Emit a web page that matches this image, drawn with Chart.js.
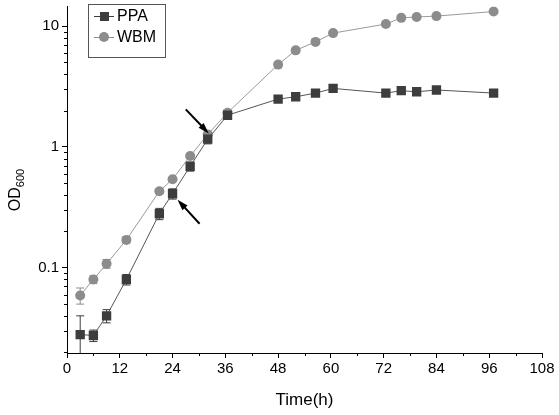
<!DOCTYPE html>
<html>
<head>
<meta charset="utf-8">
<script src="https://cdn.jsdelivr.net/npm/chart.js@4.4.1/dist/chart.umd.min.js"></script>
<style>
  html, body { margin: 0; padding: 0; background: #fff; }
  #wrap { width: 559px; height: 415px; }
</style>
</head>
<body>
<div id="wrap"><canvas id="growthChart" width="559" height="415"></canvas></div>
<script>
// sampling times (h)
const times = [3, 6, 9, 13.5, 21, 24, 28, 32, 36.5, 48, 52, 56.5, 60.5, 72.5, 76, 79.5, 84, 97];
// OD600 readings
const ppaValues = [0.028, 0.0275, 0.040, 0.080, 0.28, 0.41, 0.69, 1.16, 1.83, 2.49, 2.60, 2.79, 3.05, 2.79, 2.92, 2.86, 2.96, 2.79];
const ppaErrors = [0.012, 0.003, 0.005, 0.008, 0.03, 0.04, 0.06, 0.10, 0.08, 0.06, 0.05, 0.05, 0.06, 0.05, 0.05, 0.05, 0.05, 0.05];
const wbmValues = [0.059, 0.080, 0.108, 0.17, 0.43, 0.54, 0.84, 1.27, 1.92, 4.8, 6.3, 7.4, 8.75, 10.4, 11.7, 11.9, 12.1, 13.2];
const wbmErrors = [0.009, 0.006, 0.009, 0.01, 0.02, 0.02, 0.04, 0.05, 0.08, 0.1, 0.1, 0.1, 0.2, 0.2, 0.2, 0.2, 0.2, 0.2];

const xTicks = [0, 12, 24, 36, 48, 60, 72, 84, 96, 108];
const yTicks = [0.1, 1, 10];
const seriesNames = ['PPA', 'WBM'];

const ppaColor = '#3d3d3d';
const wbmColor = '#8c8c8c';
const axisFont = { family: 'Liberation Sans, Arial, sans-serif', size: 15 };

const ctx = document.getElementById('growthChart').getContext('2d');

function toPoints(vals) {
    return vals.map((v, i) => ({ x: times[i], y: v }));
}

// error bars under the markers
const errorBars = {
    id: 'errorBars',
    beforeDatasetsDraw(chart) {
        const c = chart.ctx;
        const xs = chart.scales.x, ys = chart.scales.y;
        const area = chart.chartArea;
        const sets = [[ppaValues, ppaErrors, ppaColor], [wbmValues, wbmErrors, wbmColor]];
        c.save();
        c.beginPath();
        c.rect(area.left, area.top, area.right - area.left, area.bottom - area.top);
        c.clip();
        sets.forEach(([vals, errs, col]) => {
            c.strokeStyle = col;
            c.lineWidth = 1;
            vals.forEach((v, i) => {
                const px = xs.getPixelForValue(times[i]);
                const hi = ys.getPixelForValue(v + errs[i]);
                const lo = ys.getPixelForValue(Math.max(v - errs[i], 0.001));
                c.beginPath();
                c.moveTo(px, hi); c.lineTo(px, lo);
                c.moveTo(px - 4, hi); c.lineTo(px + 4, hi);
                c.moveTo(px - 4, lo); c.lineTo(px + 4, lo);
                c.stroke();
            });
        });
        c.restore();
    }
};

function drawArrow(c, x1, y1, x2, y2) {
    const ang = Math.atan2(y2 - y1, x2 - x1);
    c.beginPath();
    c.moveTo(x1, y1);
    c.lineTo(x2 - 6 * Math.cos(ang), y2 - 6 * Math.sin(ang));
    c.lineWidth = 2;
    c.stroke();
    c.beginPath();
    c.moveTo(x2, y2);
    c.lineTo(x2 - 11 * Math.cos(ang) + 3.5 * Math.sin(ang), y2 - 11 * Math.sin(ang) - 3.5 * Math.cos(ang));
    c.lineTo(x2 - 11 * Math.cos(ang) - 3.5 * Math.sin(ang), y2 - 11 * Math.sin(ang) + 3.5 * Math.cos(ang));
    c.closePath();
    c.fill();
}

// minor ticks, arrows, legend box, y title with subscript
const extras = {
    id: 'extras',
    afterDraw(chart) {
        const c = chart.ctx;
        const xs = chart.scales.x, ys = chart.scales.y;
        const area = chart.chartArea;
        c.save();
        c.strokeStyle = '#000';
        c.lineWidth = 1;
        // minor y ticks
        [0.01, 0.1, 1, 10].forEach(dec => {
            for (let k = 2; k <= 9; k++) {
                const v = dec * k;
                if (v < ys.min || v > ys.max) continue;
                const py = Math.round(ys.getPixelForValue(v)) + 0.5;
                c.beginPath();
                c.moveTo(area.left - 3, py); c.lineTo(area.left, py);
                c.stroke();
            }
        });
        // minor x ticks
        for (let t = 6; t < 108; t += 12) {
            const px = Math.round(xs.getPixelForValue(t)) + 0.5;
            c.beginPath();
            c.moveTo(px, area.bottom); c.lineTo(px, area.bottom + 3);
            c.stroke();
        }
        // arrows near the 24 h and 32 h samples
        c.strokeStyle = '#000';
        c.fillStyle = '#000';
        const a1x = xs.getPixelForValue(times[7]), a1y = ys.getPixelForValue(wbmValues[7]);
        drawArrow(c, a1x - 22, a1y - 25, a1x + 1, a1y - 1);
        const a2x = xs.getPixelForValue(times[5]), a2y = ys.getPixelForValue(ppaValues[5]);
        drawArrow(c, a2x + 27, a2y + 30, a2x + 5, a2y + 6);

        // legend
        c.strokeStyle = '#555';
        c.lineWidth = 1;
        c.strokeRect(88.5, 4.5, 77, 53);
        const items = [[seriesNames[0], ppaColor, 'rect', 16], [seriesNames[1], wbmColor, 'circle', 37]];
        c.font = '16px Liberation Sans, Arial, sans-serif';
        c.textBaseline = 'middle';
        items.forEach(([name, col, shape, yy]) => {
            c.strokeStyle = col;
            c.beginPath();
            c.moveTo(94, yy + 0.5); c.lineTo(114, yy + 0.5);
            c.stroke();
            c.fillStyle = col;
            if (shape === 'rect') c.fillRect(100, yy - 4, 9, 9);
            else { c.beginPath(); c.arc(104, yy, 5, 0, Math.PI * 2); c.fill(); }
            c.fillStyle = '#000';
            c.fillText(name, 117, yy + 1);
        });

        // y title OD600
        c.translate(14, 190);
        c.rotate(-Math.PI / 2);
        c.fillStyle = '#000';
        c.textBaseline = 'alphabetic';
        c.font = '16px Liberation Sans, Arial, sans-serif';
        const w1 = c.measureText('OD').width;
        c.font = '11px Liberation Sans, Arial, sans-serif';
        const w2 = c.measureText('600').width;
        const x0 = -(w1 + w2) / 2;
        c.font = '16px Liberation Sans, Arial, sans-serif';
        c.fillText('OD', x0, 6);
        c.font = '11px Liberation Sans, Arial, sans-serif';
        c.fillText('600', x0 + w1, 10);
        c.restore();
    }
};

new Chart(ctx, {
    type: 'line',
    data: {
        datasets: [{
            label: seriesNames[0],
            data: toPoints(ppaValues),
            borderColor: '#555',
            borderWidth: 1,
            backgroundColor: ppaColor,
            pointStyle: 'rect',
            pointRadius: 6.6,
            pointBorderWidth: 0,
            pointBackgroundColor: ppaColor,
            order: 1
        }, {
            label: seriesNames[1],
            data: toPoints(wbmValues),
            borderColor: '#9a9a9a',
            borderWidth: 1,
            backgroundColor: wbmColor,
            pointStyle: 'circle',
            pointRadius: 5,
            pointBorderWidth: 0,
            pointBackgroundColor: wbmColor,
            order: 2
        }]
    },
    options: {
        responsive: false,
        animation: false,
        layout: { padding: { top: 4, right: 17, left: 0, bottom: 0 } },
        plugins: {
            legend: { display: false },
            tooltip: { enabled: false }
        },
        scales: {
            x: {
                type: 'linear',
                min: 0,
                max: 108,
                afterBuildTicks: s => { s.ticks = xTicks.map(v => ({ value: v })); },
                afterFit: s => { s.height = 62; s.paddingLeft = 0; s.paddingRight = 0; },
                grid: { drawOnChartArea: false, tickLength: 5, color: '#000' },
                border: { color: '#000', width: 1 },
                ticks: { color: '#000', font: axisFont, padding: 2, maxRotation: 0 },
                title: {
                    display: true,
                    text: 'Time(h)',
                    color: '#000',
                    font: { family: 'Liberation Sans, Arial, sans-serif', size: 17 },
                    padding: { top: 6 }
                }
            },
            y: {
                type: 'logarithmic',
                min: 0.0197,
                max: 14.5,
                afterBuildTicks: s => { s.ticks = yTicks.map(v => ({ value: v })); },
                afterFit: s => { s.width = 67; s.paddingTop = 0; s.paddingBottom = 0; },
                grid: { drawOnChartArea: false, tickLength: 5, color: '#000' },
                border: { color: '#000', width: 1 },
                ticks: { color: '#000', font: axisFont, padding: 3, callback: v => String(v) }
            }
        }
    },
    plugins: [errorBars, extras]
});
</script>
</body>
</html>
